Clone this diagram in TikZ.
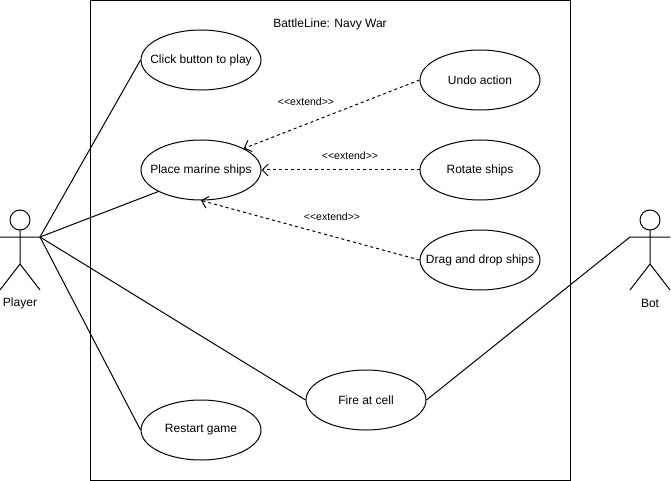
\documentclass[tikz,border=0pt]{standalone}
\usepackage{fontspec}
\setmainfont{Liberation Sans}[Ligatures=TeXOff]
\usetikzlibrary{shapes.geometric,arrows.meta}
\newcommand{\uctext}[1]{\makebox[0pt]{#1}}
\begin{document}
\begin{tikzpicture}[x=1pt,y=-1pt,line width=1pt,
  usecase/.style={draw,ellipse,minimum width=120pt,minimum height=60pt,inner sep=0pt,font=\fontsize{12}{14}\selectfont},
  lbl/.style={font=\fontsize{12}{14}\selectfont,inner sep=0pt},
  extlbl/.style={font=\fontsize{10.5}{12}\selectfont,inner sep=0pt},
  assoc/.style={draw,line width=1pt},
  ext/.style={draw,line width=1pt,dash pattern=on 3pt off 3pt,-{Straight Barb[length=6pt,width=12pt]}}]
\useasboundingbox (0,0) rectangle (671,481);
\draw (90,0.5) rectangle (570,480);
\node[lbl] (title) at (330,24) {BattleLine: Navy War};
\node[usecase] (click) at (201,60) {\uctext{Click button to play}};
\node[usecase] (place) at (201,170) {\uctext{Place marine ships}};
\node[usecase] (undo) at (480,80) {\uctext{Undo action}};
\node[usecase] (rotate) at (480,170) {\uctext{Rotate ships}};
\node[usecase] (drag) at (480,260) {\uctext{Drag and drop ships}};
\node[usecase] (fire) at (366,400) {\uctext{Fire at cell}};
\node[usecase] (restart) at (201,430) {\uctext{Restart game}};
% Player actor
\draw (20,220) circle (10);
\draw (20,230) -- (20,264) (0,237) -- (40,237) (0,290) -- (20,264) -- (40,290);
\coordinate (player) at (40,237);
\node[lbl] (playerlbl) at (20,303) {Player};
% Bot actor
\draw (650,220) circle (10);
\draw (650,230) -- (650,264) (630,237) -- (670,237) (630,290) -- (650,264) -- (670,290);
\coordinate (bot) at (630,237);
\node[lbl] (botlbl) at (650,303) {Bot};
% associations
\draw[assoc] (player) -- (click.west);
\draw[assoc] (player) -- (place.south west);
\draw[assoc] (player) -- (fire.west);
\draw[assoc] (player) -- (restart.west);
\draw[assoc] (bot) -- (fire.east);
% extends
\draw[ext] (undo.west) -- (place.north east);
\draw[ext] (rotate.west) -- (place.east);
\draw[ext] (drag.west) -- (place.south);
\node[extlbl] (e1) at (306,102) {<<extend>>};
\node[extlbl] (e2) at (350,156) {<<extend>>};
\node[extlbl] (e3) at (332,217) {<<extend>>};
\end{tikzpicture}
\end{document}
